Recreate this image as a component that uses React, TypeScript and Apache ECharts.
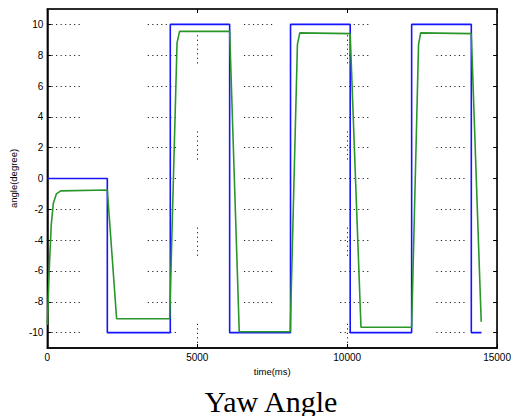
import React, { useEffect, useRef } from "react";
import * as echarts from "echarts";

const setpointTime = [0, 2000, 2000, 4100, 4100, 6080, 6080, 8110, 8110, 10100, 10100, 12150, 12150, 14140, 14140, 14480];
const setpointAngle = [0, 0, -10, -10, 10, 10, -10, -10, 10, 10, -10, -10, 10, 10, -10, -10];

const responseTime = [0, 60, 130, 200, 300, 450, 2000, 2310, 4080, 4325, 4410, 6080, 6400, 8100, 8340, 8420, 10100, 10460, 12150, 12380, 12450, 14140, 14470];
const responseAngle = [-9.5, -6, -3, -1.6, -1.0, -0.8, -0.75, -9.1, -9.1, 8.8, 9.55, 9.55, -9.95, -9.95, 8.7, 9.45, 9.4, -9.65, -9.65, 8.7, 9.45, 9.4, -9.3];

const yTicks = [-10, -8, -6, -4, -2, 0, 2, 4, 6, 8, 10];

const title = "Yaw Angle";
const xName = "time(ms)";
const yName = "angle(degree)";

const dots: number[] = [];
for (let i = 0; i < 6; i++) dots.push(1.2, 3.3);
dots.push(1.2, 68);

export default function App() {
  const ref = useRef<HTMLDivElement>(null);
  useEffect(() => {
    const chart = echarts.init(ref.current!, null, { renderer: "svg" });
    const labelFont = { fontFamily: "Liberation Sans", fontSize: 10, color: "#000" };
    const nameFont = { fontFamily: "Liberation Sans", fontSize: 9.5, color: "#000" };
    chart.setOption({
      animation: false,
      backgroundColor: "#fff",
      title: {
        text: title,
        left: 266,
        top: 381,
        textAlign: "center",
        textStyle: { fontFamily: "Liberation Serif", fontSize: 30, fontWeight: "normal", color: "#000" },
      },
      grid: { left: 45, top: 9, right: 10, bottom: 68, show: true, borderColor: "#111", borderWidth: 1.5, backgroundColor: "transparent" },
      xAxis: [
        {
          type: "value",
          min: 0,
          max: 15000,
          interval: 5000,
          name: xName,
          nameLocation: "middle",
          nameGap: 17,
          nameTextStyle: nameFont,
          axisLine: { show: true, onZero: false, lineStyle: { color: "#000", width: 1.5 } },
          axisTick: { show: true, inside: true, length: 4, lineStyle: { color: "#000" } },
          axisLabel: { ...labelFont, margin: 4, formatter: (v: number) => String(v) },
          splitLine: { show: true, lineStyle: { color: "#222", width: 1, type: dots, dashOffset: 70 } },
        },
        {
          type: "value",
          position: "top",
          min: 0,
          max: 15000,
          interval: 5000,
          axisLine: { show: true, onZero: false, lineStyle: { color: "#222", width: 1.5 } },
          axisTick: { show: true, inside: true, length: 4, lineStyle: { color: "#000" } },
          axisLabel: { show: false },
          splitLine: { show: false },
        },
      ],
      yAxis: [
        {
          type: "value",
          min: -11,
          max: 11,
          name: yName,
          nameLocation: "middle",
          nameGap: 23,
          nameTextStyle: nameFont,
          axisLine: { show: true, onZero: false, lineStyle: { color: "#000", width: 1.5 } },
          axisTick: { show: true, inside: true, length: 4, customValues: yTicks, lineStyle: { color: "#000" } },
          axisLabel: { ...labelFont, margin: 4, customValues: yTicks },
          splitLine: { show: true, lineStyle: { color: "#222", width: 1, type: dots, dashOffset: 92 } },
        },
        {
          type: "value",
          position: "right",
          min: -11,
          max: 11,
          axisLine: { show: true, onZero: false, lineStyle: { color: "#222", width: 1.5 } },
          axisTick: { show: true, inside: true, length: 4, customValues: yTicks, lineStyle: { color: "#000" } },
          axisLabel: { show: false, customValues: yTicks },
          splitLine: { show: false },
        },
      ],
      series: [
        {
          type: "line",
          name: "setpoint",
          data: setpointTime.map((t, i) => [t, setpointAngle[i]]),
          showSymbol: false,
          symbol: "none",
          lineStyle: { color: "#1414ff", width: 1.6 },
          z: 3,
        },
        {
          type: "line",
          name: "response",
          data: responseTime.map((t, i) => [t, responseAngle[i]]),
          showSymbol: false,
          symbol: "none",
          lineStyle: { color: "#2a962a", width: 1.6 },
          z: 4,
        },
      ],
    });
    return () => chart.dispose();
  }, []);
  return <div ref={ref} style={{ width: 514, height: 416, position: "absolute", left: 0, top: 0 }} />;
}
